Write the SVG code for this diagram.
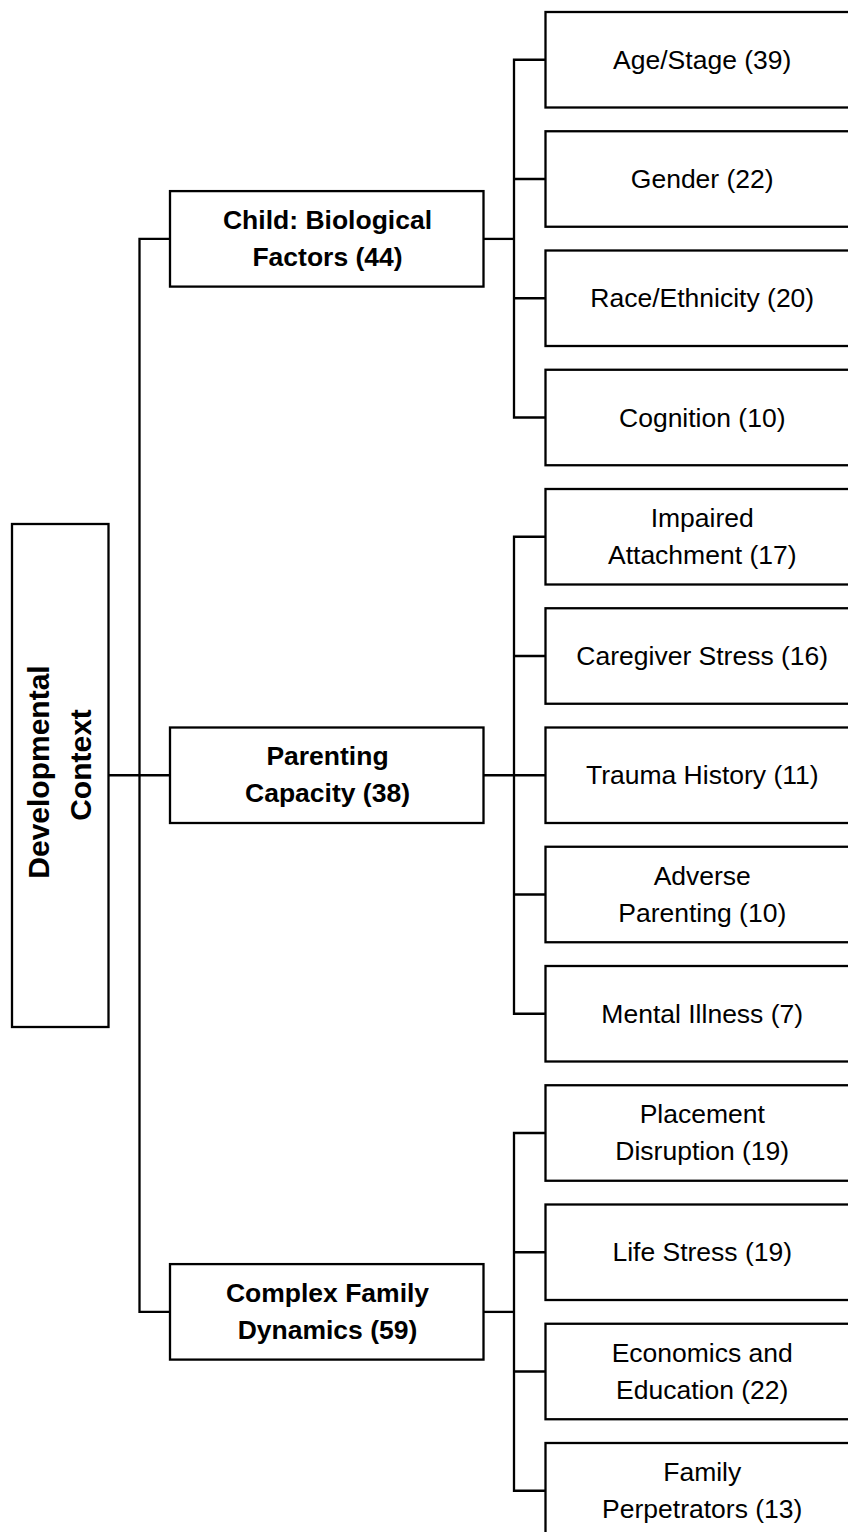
<svg xmlns="http://www.w3.org/2000/svg" width="848" height="1532" viewBox="0 0 848 1532">
<style>
.box{fill:#fff;stroke:#000;stroke-width:2.3}
.con{fill:none;stroke:#000;stroke-width:2.3}
.t{font-family:"Liberation Sans",Arial,sans-serif;font-size:26.5px;fill:#000;text-anchor:middle}
.b{font-family:"Liberation Sans",Arial,sans-serif;font-size:26.5px;font-weight:bold;fill:#000;text-anchor:middle}
.d{font-family:"Liberation Sans",Arial,sans-serif;font-size:30px;font-weight:bold;fill:#000;text-anchor:middle}
</style>
<rect width="848" height="1532" fill="#fff"/>
<g id="connectors">
<path class="con" d="M108.5,775.25 H170"/>
<path class="con" d="M170,238.9 H139.5 V1311.9 H170"/>
<path class="con" d="M483.5,238.9 H514"/>
<path class="con" d="M545.5,59.75 H514 V417.5 H545.5 M514,179 H545.5 M514,298.25 H545.5"/>
<path class="con" d="M483.5,775.25 H545.5"/>
<path class="con" d="M545.5,536.75 H514 V1013.75 H545.5 M514,656 H545.5 M514,894.5 H545.5"/>
<path class="con" d="M483.5,1311.9 H514"/>
<path class="con" d="M545.5,1133 H514 V1490.75 H545.5 M514,1252.25 H545.5 M514,1371.5 H545.5"/>
</g>
<g id="dev">
<rect class="box" x="12" y="524" width="96.5" height="503"/>
<text class="d" transform="translate(60,772) rotate(-90)"><tspan x="0" y="-11">Developmental</tspan><tspan x="7" y="31">Context</tspan></text>
</g>
<g id="child">
<rect class="box" x="170" y="191.1" width="313.5" height="95.5"/>
<text class="b"><tspan x="327.5" y="228.9">Child: Biological</tspan><tspan x="327.5" y="265.9">Factors (44)</tspan></text>
</g>
<g id="parenting">
<rect class="box" x="170" y="727.5" width="313.5" height="95.5"/>
<text class="b"><tspan x="327.5" y="765.25">Parenting</tspan><tspan x="327.5" y="802.25">Capacity (38)</tspan></text>
</g>
<g id="family">
<rect class="box" x="170" y="1264.1" width="313.5" height="95.5"/>
<text class="b"><tspan x="327.5" y="1301.9">Complex Family</tspan><tspan x="327.5" y="1338.9">Dynamics (59)</tspan></text>
</g>
<g id="age">
<rect class="box" x="545.5" y="12" width="313.5" height="95.5"/>
<text class="t" x="702.25" y="68.75">Age/Stage (39)</text>
</g>
<g id="gender">
<rect class="box" x="545.5" y="131.25" width="313.5" height="95.5"/>
<text class="t" x="702.25" y="188">Gender (22)</text>
</g>
<g id="race">
<rect class="box" x="545.5" y="250.5" width="313.5" height="95.5"/>
<text class="t" x="702.25" y="307.25">Race/Ethnicity (20)</text>
</g>
<g id="cognition">
<rect class="box" x="545.5" y="369.75" width="313.5" height="95.5"/>
<text class="t" x="702.25" y="426.5">Cognition (10)</text>
</g>
<g id="attachment">
<rect class="box" x="545.5" y="489" width="313.5" height="95.5"/>
<text class="t"><tspan x="702.25" y="526.75">Impaired</tspan><tspan x="702.25" y="563.75">Attachment (17)</tspan></text>
</g>
<g id="caregiver">
<rect class="box" x="545.5" y="608.25" width="313.5" height="95.5"/>
<text class="t" x="702.25" y="665">Caregiver Stress (16)</text>
</g>
<g id="trauma">
<rect class="box" x="545.5" y="727.5" width="313.5" height="95.5"/>
<text class="t" x="702.25" y="784.25">Trauma History (11)</text>
</g>
<g id="adverse">
<rect class="box" x="545.5" y="846.75" width="313.5" height="95.5"/>
<text class="t"><tspan x="702.25" y="884.5">Adverse</tspan><tspan x="702.25" y="921.5">Parenting (10)</tspan></text>
</g>
<g id="mental">
<rect class="box" x="545.5" y="966" width="313.5" height="95.5"/>
<text class="t" x="702.25" y="1022.75">Mental Illness (7)</text>
</g>
<g id="placement">
<rect class="box" x="545.5" y="1085.25" width="313.5" height="95.5"/>
<text class="t"><tspan x="702.25" y="1123">Placement</tspan><tspan x="702.25" y="1160">Disruption (19)</tspan></text>
</g>
<g id="lifestress">
<rect class="box" x="545.5" y="1204.5" width="313.5" height="95.5"/>
<text class="t" x="702.25" y="1261.25">Life Stress (19)</text>
</g>
<g id="economics">
<rect class="box" x="545.5" y="1323.75" width="313.5" height="95.5"/>
<text class="t"><tspan x="702.25" y="1361.5">Economics and</tspan><tspan x="702.25" y="1398.5">Education (22)</tspan></text>
</g>
<g id="perpetrators">
<rect class="box" x="545.5" y="1443" width="313.5" height="95.5"/>
<text class="t"><tspan x="702.25" y="1480.75">Family</tspan><tspan x="702.25" y="1517.75">Perpetrators (13)</tspan></text>
</g>
</svg>
